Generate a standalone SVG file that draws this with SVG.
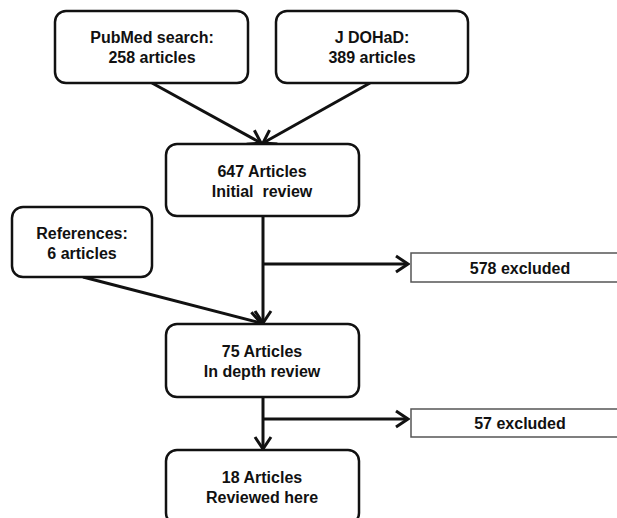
<svg xmlns="http://www.w3.org/2000/svg" width="617" height="518" viewBox="0 0 617 518">
<style>
.node{fill:#fff;stroke:#111;stroke-width:2.5}
.excl{fill:#fff;stroke:#555;stroke-width:1.5}
.t{font-family:"Liberation Sans",Arial,sans-serif;font-weight:bold;font-size:16px;fill:#111;text-anchor:middle;white-space:pre}
.c{stroke:#111;stroke-width:3;fill:none}
</style>
<defs>
<marker id="ah" markerUnits="userSpaceOnUse" viewBox="-14 -10 16 20" refX="0" refY="0" markerWidth="16" markerHeight="20" orient="auto">
<path d="M-12,-8 L0,0 L-12,8" fill="none" stroke="#111" stroke-width="3"/>
</marker>
</defs>
<rect width="617" height="518" fill="#fff"/>
<g id="connectors">
<line class="c" x1="152" y1="83" x2="261" y2="143" marker-end="url(#ah)"/>
<line class="c" x1="370" y1="83" x2="263" y2="143" marker-end="url(#ah)"/>
<line class="c" x1="263" y1="216" x2="263" y2="323" marker-end="url(#ah)"/>
<line class="c" x1="263" y1="264" x2="408" y2="264" marker-end="url(#ah)"/>
<line class="c" x1="83" y1="277" x2="261" y2="323" marker-end="url(#ah)"/>
<line class="c" x1="263" y1="397" x2="263" y2="449" marker-end="url(#ah)"/>
<line class="c" x1="263" y1="419" x2="408" y2="419" marker-end="url(#ah)"/>
</g>
<g id="pubmed">
<rect class="node" x="55" y="11" width="193" height="72" rx="11"/>
<text class="t" x="152" y="43">PubMed search:</text>
<text class="t" x="152" y="63">258 articles</text>
</g>
<g id="jdohad">
<rect class="node" x="276" y="11" width="192" height="72" rx="11"/>
<text class="t" x="372" y="43">J DOHaD:</text>
<text class="t" x="372" y="63">389 articles</text>
</g>
<g id="initial">
<rect class="node" x="166" y="144" width="193" height="72" rx="11"/>
<text class="t" x="262" y="177">647 Articles</text>
<text class="t" x="262" y="197" xml:space="preserve">Initial  review</text>
</g>
<g id="references">
<rect class="node" x="12" y="207" width="140" height="70" rx="11"/>
<text class="t" x="82" y="239">References:</text>
<text class="t" x="82" y="259">6 articles</text>
</g>
<g id="excluded578">
<rect class="excl" x="411" y="253" width="215" height="29"/>
<text class="t" x="520" y="274">578 excluded</text>
</g>
<g id="indepth">
<rect class="node" x="166" y="324" width="193" height="73" rx="11"/>
<text class="t" x="262" y="357">75 Articles</text>
<text class="t" x="262" y="377">In depth review</text>
</g>
<g id="excluded57">
<rect class="excl" x="411" y="409" width="215" height="28"/>
<text class="t" x="520" y="429">57 excluded</text>
</g>
<g id="reviewed">
<rect class="node" x="166" y="450" width="193" height="74" rx="11"/>
<text class="t" x="262" y="483">18 Articles</text>
<text class="t" x="262" y="503">Reviewed here</text>
</g>
</svg>
